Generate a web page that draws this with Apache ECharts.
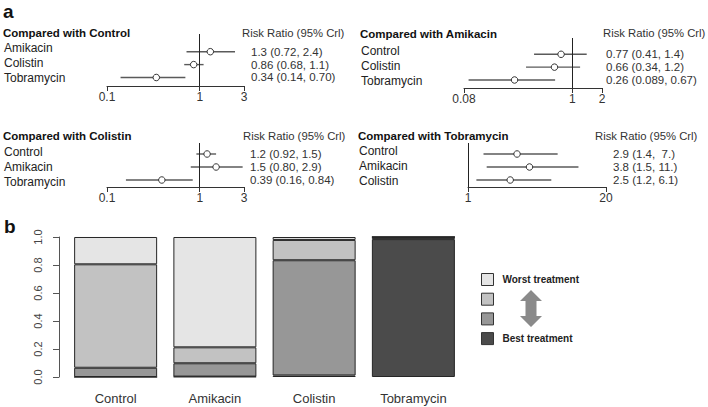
<!DOCTYPE html>
<html><head><meta charset="utf-8">
<script src="https://cdn.jsdelivr.net/npm/echarts@6/dist/echarts.min.js"></script>
<style>html,body{margin:0;padding:0;background:#fff}#c{width:708px;height:407px}</style>
</head><body><div id="c"></div>
<script>
// ---------- data ----------
const panelTitles = ['Compared with Control', 'Compared with Amikacin', 'Compared with Colistin', 'Compared with Tobramycin'];
const headerText = 'Risk Ratio (95% Crl)';

const ctlNames = ['Amikacin', 'Colistin', 'Tobramycin'];
const ctlRR = [1.3, 0.86, 0.34];
const ctlLow = [0.72, 0.68, 0.14];
const ctlHigh = [2.4, 1.1, 0.70];
const ctlLabels = ['1.3 (0.72, 2.4)', '0.86 (0.68, 1.1)', '0.34 (0.14, 0.70)'];
const ctlTicks = [0.1, 1, 3];

const amiNames = ['Control', 'Colistin', 'Tobramycin'];
const amiRR = [0.77, 0.66, 0.26];
const amiLow = [0.41, 0.34, 0.089];
const amiHigh = [1.4, 1.2, 0.67];
const amiLabels = ['0.77 (0.41, 1.4)', '0.66 (0.34, 1.2)', '0.26 (0.089, 0.67)'];
const amiTicks = [0.08, 1, 2];

const colNames = ['Control', 'Amikacin', 'Tobramycin'];
const colRR = [1.2, 1.5, 0.39];
const colLow = [0.92, 0.80, 0.16];
const colHigh = [1.5, 2.9, 0.84];
const colLabels = ['1.2 (0.92, 1.5)', '1.5 (0.80, 2.9)', '0.39 (0.16, 0.84)'];
const colTicks = [0.1, 1, 3];

const tobNames = ['Control', 'Amikacin', 'Colistin'];
const tobRR = [2.9, 3.8, 2.5];
const tobLow = [1.4, 1.5, 1.2];
const tobHigh = [7.0, 11, 6.1];
const tobLabels = ['2.9 (1.4,  7.)', '3.8 (1.5, 11.)', '2.5 (1.2, 6.1)'];
const tobTicks = [1, 20];

const treatments = ['Control', 'Amikacin', 'Colistin', 'Tobramycin'];
const rankNames = ['Best treatment', '  ', ' ', 'Worst treatment']; // bottom -> top
const rankBest  = [0.000, 0.003, 0.011, 0.985];
const rank2     = [0.066, 0.095, 0.823, 0.013];
const rank3     = [0.739, 0.114, 0.145, 0.002];
const rankWorst = [0.195, 0.788, 0.021, 0.000];
const yTickStep = 0.2;

// ---------- layout ----------
const FONT = '"Liberation Sans", Arial, sans-serif';
const panels = [
  {names: ctlNames, rr: ctlRR, lo: ctlLow, hi: ctlHigh, labels: ctlLabels, ticks: ctlTicks,
   grid: {left: 107, top: 34, width: 137, height: 52}, ymm: [-0.372, 3.659], lmm: [0.067, 3.533],
   lm: 103, rm: 7, title: [3, 33], head: [242, 33]},
  {names: amiNames, rr: amiRR, lo: amiLow, hi: amiHigh, labels: amiLabels, ticks: amiTicks,
   grid: {left: 464, top: 38, width: 138, height: 50}, ymm: [-0.268, 3.623], lmm: [0.153, 3.487],
   lm: 103, rm: 4, title: [360, 34], head: [603, 33]},
  {names: colNames, rr: colRR, lo: colLow, hi: colHigh, labels: colLabels, ticks: colTicks,
   grid: {left: 107, top: 143, width: 137, height: 44}, ymm: [0.154, 3.538], lmm: [0.42, 3.353],
   lm: 103, rm: 6, title: [3, 136], head: [243, 136]},
  {names: tobNames, rr: tobRR, lo: tobLow, hi: tobHigh, labels: tobLabels, ticks: tobTicks,
   grid: {left: 468, top: 143, width: 138, height: 44}, ymm: [0.154, 3.538], lmm: [0.467, 3.4],
   lm: 109, rm: 7, title: [358, 136], head: [595, 136]}
];

const grids = [], xAxes = [], yAxes = [], series = [], graphics = [];
const fmtNum = v => String(Number(Number(v).toPrecision(6)));

panels.forEach((p, i) => {
  grids.push(Object.assign({containLabel: false}, p.grid));
  xAxes.push({
    type: 'log', logBase: 10, gridIndex: i, position: 'bottom', min: p.ticks[0], max: p.ticks[p.ticks.length - 1],
    axisLine: {show: true, onZero: false, lineStyle: {color: '#333', width: 1}},
    axisTick: {show: true, customValues: p.ticks, length: 5, lineStyle: {color: '#333', width: 1}},
    axisLabel: {customValues: p.ticks, formatter: v => fmtNum(v), margin: 5, fontSize: 12, color: '#333', fontFamily: FONT},
    splitLine: {show: false}, minorTick: {show: false}
  });
  // left: row names
  yAxes.push({
    type: 'value', gridIndex: i, position: 'left', inverse: true, min: p.lmm[0], max: p.lmm[1],
    axisLine: {show: false, onZero: false}, axisTick: {show: false}, splitLine: {show: false},
    axisLabel: {customValues: [1, 2, 3], formatter: v => p.names[Math.round(v) - 1] || '', align: 'left',
      margin: p.lm, fontSize: 12, color: '#222', fontFamily: FONT}
  });
  // right: estimate text, also used by the marks
  yAxes.push({
    type: 'value', gridIndex: i, position: 'right', inverse: true, min: p.ymm[0], max: p.ymm[1],
    axisLine: {show: false, onZero: false}, axisTick: {show: false}, splitLine: {show: false},
    axisLabel: {customValues: [1, 2, 3], formatter: v => p.labels[Math.round(v) - 1] || '', align: 'left',
      margin: p.rm, fontSize: 11.5, color: '#333', fontFamily: FONT}
  });
  series.push({
    type: 'custom', xAxisIndex: i, yAxisIndex: 2 * i + 1, silent: true, z: 2,
    data: p.names.map((n, j) => [p.lo[j], p.hi[j], j + 1]),
    encode: {x: [0, 1], y: 2},
    renderItem: (params, api) => {
      const a = api.coord([api.value(0), api.value(2)]);
      const b = api.coord([api.value(1), api.value(2)]);
      return {type: 'line', shape: {x1: a[0], y1: a[1], x2: b[0], y2: b[1]},
        style: {stroke: '#5a5a5a', lineWidth: 1.4}};
    }
  });
  series.push({
    type: 'scatter', xAxisIndex: i, yAxisIndex: 2 * i + 1, silent: true, z: 4,
    symbol: 'circle', symbolSize: 6.5,
    itemStyle: {color: '#fff', borderColor: '#333', borderWidth: 1, opacity: 1},
    data: p.rr.map((v, j) => [v, j + 1]),
    markLine: {silent: true, symbol: ['none', 'none'], label: {show: false}, animation: false,
      lineStyle: {color: '#222', width: 1, type: 'solid'}, data: [{xAxis: 1}]}
  });
  graphics.push({type: 'text', x: p.title[0], y: p.title[1], silent: true,
    style: {text: panelTitles[i], fontSize: 11.5, fontWeight: 'bold', fontFamily: FONT, fill: '#111', align: 'left', verticalAlign: 'middle'}});
  graphics.push({type: 'text', x: p.head[0], y: p.head[1], silent: true,
    style: {text: headerText, fontSize: 11.3, fontFamily: FONT, fill: '#333', align: 'left', verticalAlign: 'middle'}});
});

// ---------- bar chart ----------
grids.push({left: 66, top: 237, width: 397, height: 140});
xAxes.push({type: 'category', gridIndex: 4, data: treatments,
  axisLine: {show: false}, axisTick: {show: false},
  axisLabel: {fontSize: 13, color: '#333', margin: 15, fontFamily: FONT}});
yAxes.push({type: 'value', gridIndex: 4, min: 0, max: 1, interval: yTickStep, offset: 7,
  axisLine: {show: true, lineStyle: {color: '#555', width: 1}},
  axisTick: {show: true, length: 6, lineStyle: {color: '#555'}},
  splitLine: {show: false},
  axisLabel: {rotate: 90, fontSize: 11, color: '#444', margin: 16, fontFamily: FONT, formatter: v => v.toFixed(1)}});

const rankData = [rankBest, rank2, rank3, rankWorst];
const rankColors = ['#4b4b4b', '#979797', '#c2c2c2', '#e5e5e5'];
rankData.forEach((d, k) => {
  series.push({type: 'bar', name: rankNames[k], xAxisIndex: 4, yAxisIndex: 8, stack: 'rank',
    barWidth: 83, silent: true, data: d,
    itemStyle: {color: rankColors[k], borderColor: '#262626', borderWidth: 1}});
});

// arrow
graphics.push({type: 'polygon', silent: true,
  shape: {points: [[531, 290], [542, 301], [536.5, 301], [536.5, 316], [542, 316], [531, 327], [520, 316], [525.5, 316], [525.5, 301], [520, 301]]},
  style: {fill: '#8a8a8a'}});
// panel letters
graphics.push({type: 'text', x: 3, y: 11, silent: true,
  style: {text: 'a', fontSize: 19, fontWeight: 'bold', fontFamily: FONT, fill: '#111', align: 'left', verticalAlign: 'middle'}});
graphics.push({type: 'text', x: 4, y: 226, silent: true,
  style: {text: 'b', fontSize: 19, fontWeight: 'bold', fontFamily: FONT, fill: '#111', align: 'left', verticalAlign: 'middle'}});

const chart = echarts.init(document.getElementById('c'), null, {renderer: 'svg'});
chart.setOption({
  animation: false,
  backgroundColor: '#fff',
  textStyle: {fontFamily: FONT},
  grid: grids, xAxis: xAxes, yAxis: yAxes, series: series,
  legend: {orient: 'vertical', left: 481, top: 273, padding: 0, itemWidth: 12, itemHeight: 12, itemGap: 6.7,
    icon: 'rect', selectedMode: false,
    data: ['Worst treatment', ' ', '  ', 'Best treatment'],
    itemStyle: {borderColor: '#333', borderWidth: 1},
    textStyle: {fontSize: 10, fontWeight: 'bold', color: '#222', lineHeight: 12, padding: [0, 0, 0, 4], fontFamily: FONT}},
  graphic: graphics
});
</script></body></html>
